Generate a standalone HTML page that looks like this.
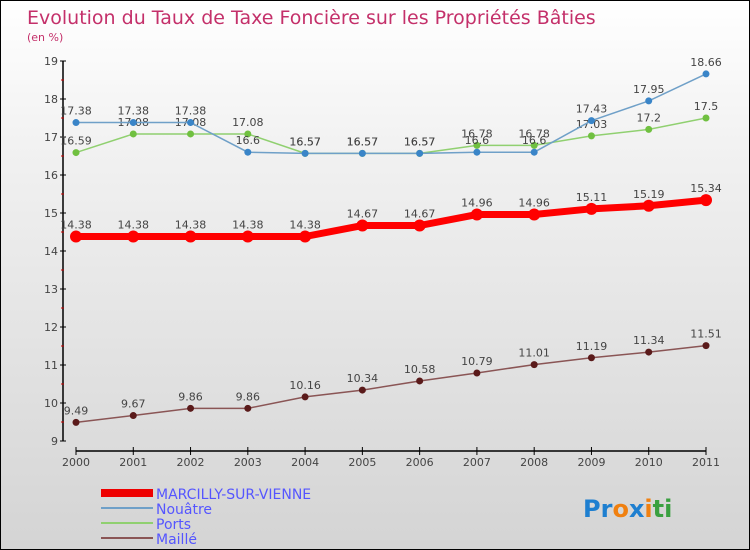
<!DOCTYPE html>
<html><head><meta charset="utf-8"><style>
body{margin:0;}
#c{width:748px;height:548px;border:1px solid #000;background:linear-gradient(#fff,#f0f0f0 30%,#d4d4d4);position:relative;overflow:hidden;font-family:"DejaVu Sans","Liberation Sans",sans-serif;}
svg text{font-family:"DejaVu Sans","Liberation Sans",sans-serif;}
</style></head><body>
<div id="c">
<svg id="s" width="748" height="548">
<text x="26" y="23" font-size="19" fill="#c4306a">Evolution du Taux de Taxe Foncière sur les Propriétés Bâties</text>
<text x="26" y="40" font-size="11" fill="#c4306a">(en %)</text>
<g id="axes"></g><g id="series"></g>
<g>
<rect x="100" y="488" width="52" height="8" fill="#e00"/>
<text x="155" y="498" font-size="14" fill="#5555ff">MARCILLY-SUR-VIENNE</text>
<line x1="100" y1="507" x2="152" y2="507" stroke="#6fa0c8" stroke-width="2"/>
<text x="155" y="513" font-size="14" fill="#5555ff">Nouâtre</text>
<line x1="100" y1="522" x2="152" y2="522" stroke="#90d070" stroke-width="2"/>
<text x="155" y="528" font-size="14" fill="#5555ff">Ports</text>
<line x1="100" y1="537" x2="152" y2="537" stroke="#8a5555" stroke-width="2"/>
<text x="155" y="543" font-size="14" fill="#5555ff">Maillé</text>
</g>
<text x="582" y="516" font-size="24" font-weight="bold"><tspan fill="#1e7fd0">Pr</tspan><tspan fill="#f08010">o</tspan><tspan fill="#1e7fd0">x</tspan><tspan fill="#f08010">i</tspan><tspan fill="#3aa040">ti</tspan></text>
</svg></div>
<script>
const years=["2000","2001","2002","2003","2004","2005","2006","2007","2008","2009","2010","2011"];
const yTicks=[9,10,11,12,13,14,15,16,17,18,19];
const marcilly=[14.38,14.38,14.38,14.38,14.38,14.67,14.67,14.96,14.96,15.11,15.19,15.34];
const nouatre=[17.38,17.38,17.38,16.6,16.57,16.57,16.57,16.6,16.6,17.43,17.95,18.66];
const ports=[16.59,17.08,17.08,17.08,16.57,16.57,16.57,16.78,16.78,17.03,17.2,17.5];
const maille=[9.49,9.67,9.86,9.86,10.16,10.34,10.58,10.79,11.01,11.19,11.34,11.51];
const NS="http://www.w3.org/2000/svg";
const X=i=>75+i*(630/(years.length-1));
const Y=v=>440-(v-9)*38;
function mk(t,a,p){const e=document.createElementNS(NS,t);for(const k in a)e.setAttribute(k,a[k]);p.appendChild(e);return e;}
const ax=document.getElementById('axes');
const yl=mk('line',{x1:62,y1:Y(19),x2:62,y2:Y(9),stroke:'#000','stroke-width':1.5},ax);


yTicks.forEach(v=>{
 mk('line',{x1:59,y1:Y(v),x2:65,y2:Y(v),stroke:'#000'},ax);
 if(v<19)mk('line',{x1:60,y1:Y(v+0.5),x2:63,y2:Y(v+0.5),stroke:'#c00'},ax);
 const t=mk('text',{x:57,y:Y(v)+4,'font-size':11,fill:'#444','text-anchor':'end'},ax);t.textContent=v;
 
 
});
const xl=mk('line',{x1:X(0),y1:450,x2:X(years.length-1),y2:450,stroke:'#000','stroke-width':1.5},ax);


years.forEach((y,i)=>{
 mk('line',{x1:X(i),y1:446,x2:X(i),y2:454,stroke:'#000'},ax);
 const t=mk('text',{x:X(i),y:465,'font-size':11,fill:'#444','text-anchor':'middle'},ax);t.textContent=y;
 
 
});
const sg=document.getElementById('series');
function draw(vals,name,line,dot,w,r){
 const g=mk('g',{},sg);
 
 
 mk('polyline',{points:vals.map((v,i)=>X(i)+','+Y(v)).join(' '),fill:'none',stroke:line,'stroke-width':w},g);
 vals.forEach((v,i)=>{
  const c=mk('circle',{cx:X(i),cy:Y(v),r:r,fill:dot},g);
  
  
  const t=mk('text',{x:X(i),y:Y(v)-8,'font-size':11,fill:'#444','text-anchor':'middle'},g);t.textContent=v;
  
  
 });
}
draw(maille,'maille','#8a5555','#5a1a1a',1.5,3.5);
draw(ports,'ports','#90d070','#70c040',1.5,3.5);
draw(nouatre,'nouatre','#6fa0c8','#3a85c8',1.5,3.5);
draw(marcilly,'marcilly','#f00','#f00',7,6);
</script>
</body></html>
